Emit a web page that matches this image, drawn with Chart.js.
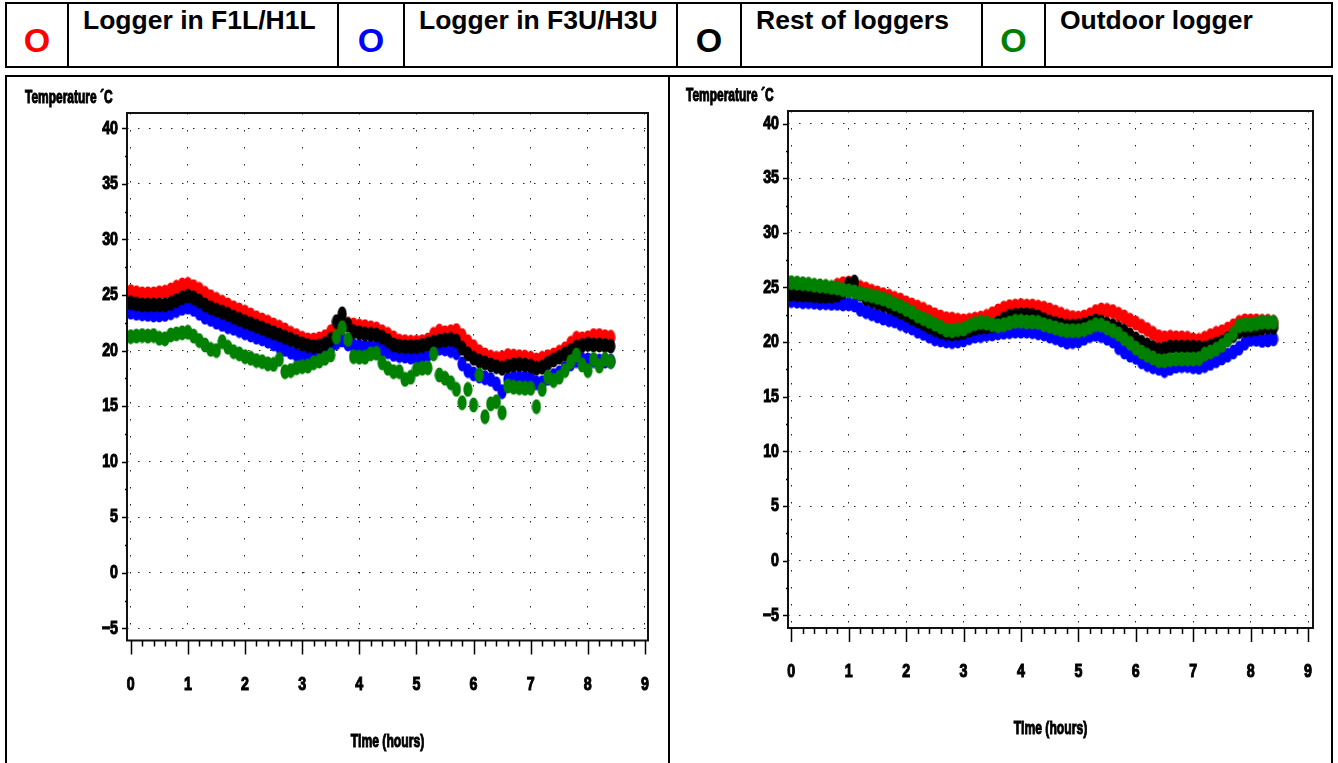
<!DOCTYPE html>
<html>
<head>
<meta charset="utf-8">
<script src="https://cdn.jsdelivr.net/npm/chart.js@4.4.1/dist/chart.umd.min.js"></script>
<style>
  html, body { margin: 0; padding: 0; background: #fff; }
  #page { position: relative; width: 1338px; height: 763px; overflow: hidden;
          font-family: "Liberation Sans", Arial, sans-serif; }
  .rule { position: absolute; background: #000; }
  .key { position: absolute; font-weight: bold; font-size: 34px; line-height: 1; text-align: center; }
  .keytext { position: absolute; font-weight: bold; font-size: 26.5px; line-height: 1; white-space: nowrap; color: #000; }
  canvas { position: absolute; }
</style>
</head>
<body>
<div id="page"></div>
<script>
// ---- series names and colours ----
const SERIES_LABELS = ['Logger in F1L/H1L', 'Logger in F3U/H3U', 'Rest of loggers', 'Outdoor logger'];
const SERIES_COLORS = ['#ff0000', '#0000ff', '#000000', '#008000'];
const KEY_SYMBOL = 'O';

// ---- axes ----
const X_TICKS = [0, 1, 2, 3, 4, 5, 6, 7, 8, 9];
const Y_TICKS = [-5, 0, 5, 10, 15, 20, 25, 30, 35, 40];
const X_TITLE = 'Time (hours)';
const Y_TITLE = 'Temperature ´C';

// ---- logging times (hours) ----
const TIME = [
  0.0, 0.1, 0.2, 0.3, 0.4, 0.5, 0.6, 0.7, 0.8, 0.9,
  1.0, 1.1, 1.2, 1.3, 1.4, 1.5, 1.6, 1.7, 1.8, 1.9,
  2.0, 2.1, 2.2, 2.3, 2.4, 2.5, 2.6, 2.7, 2.8, 2.9,
  3.0, 3.1, 3.2, 3.3, 3.4, 3.5, 3.6, 3.7, 3.8, 3.9,
  4.0, 4.1, 4.2, 4.3, 4.4, 4.5, 4.6, 4.7, 4.8, 4.9,
  5.0, 5.1, 5.2, 5.3, 5.4, 5.5, 5.6, 5.7, 5.8, 5.9,
  6.0, 6.1, 6.2, 6.3, 6.4, 6.5, 6.6, 6.7, 6.8, 6.9,
  7.0, 7.1, 7.2, 7.3, 7.4, 7.5, 7.6, 7.7, 7.8, 7.9,
  8.0, 8.1, 8.2, 8.3, 8.4
];

// ---- left panel temperatures (°C) ----
const LEFT_F1L = [
  25.3, 25.2, 25.1, 25.1, 25.1, 25.2, 25.25, 25.45, 25.7, 25.9,
  25.95, 25.75, 25.5, 25.15, 24.85, 24.6, 24.35, 24.1, 23.85, 23.65,
  23.45, 23.2, 22.95, 22.75, 22.55, 22.3, 22.1, 21.85, 21.55, 21.35,
  21.1, 20.95, 20.95, 21.05, 21.25, 21.7, 22.15, 22.45, 22.4, 22.3,
  22.2, 22.15, 22.05, 21.95, 21.7, 21.45, 21.15, 20.85, 20.8, 20.75,
  20.75, 20.8, 20.95, 21.45, 21.75, 21.6, 21.7, 21.8, 21.35, 20.8,
  20.35, 19.9, 19.6, 19.4, 19.3, 19.35, 19.55, 19.5, 19.45, 19.4,
  19.3, 19.15, 19.3, 19.45, 19.6, 19.85, 20.15, 20.65, 21.1, 21.05,
  21.15, 21.35, 21.35, 21.25, 21.2
];
const LEFT_F3U = [
  23.45, 23.35, 23.3, 23.25, 23.2, 23.2, 23.25, 23.4, 23.6, 23.8,
  23.9, 23.7, 23.35, 23.0, 22.8, 22.55, 22.35, 22.15, 22.0, 21.8,
  21.6, 21.4, 21.2, 21.05, 20.85, 20.6, 20.35, 20.1, 19.85, 19.65,
  19.5, 19.5, 19.6, 19.75, 19.95, 20.3, 20.7, 20.95, 20.6, 20.45,
  20.4, 20.35, 20.35, 20.3, 20.1, 19.9, 19.65, 19.55, 19.5, 19.4,
  19.35, 19.5, 19.65, 20.0, 20.2, 20.15, 20.0, 19.8, 18.8, 18.2,
  17.9, 17.7, 17.55, 17.4, 17.0, 16.3, 17.4, 17.55, 17.6, 17.55,
  17.5, 17.1, 17.1, 17.5, 17.75, 18.0, 18.4, 18.8, 19.1, 19.2,
  19.15, 19.1, 19.05, 19.05, 19.05
];
const LEFT_REST = [
  24.3, 24.2, 24.1, 24.1, 24.1, 24.1, 24.1, 24.25, 24.5, 24.75,
  24.9, 24.75, 24.45, 24.1, 23.85, 23.65, 23.45, 23.25, 23.0, 22.8,
  22.6, 22.4, 22.2, 22.0, 21.8, 21.6, 21.4, 21.2, 21.0, 20.8,
  20.6, 20.45, 20.35, 20.4, 20.6, 21.0, 22.6, 23.3, 22.3, 21.7,
  21.6, 21.5, 21.45, 21.4, 21.2, 20.9, 20.5, 20.4, 20.35, 20.35,
  20.35, 20.45, 20.6, 20.75, 20.85, 20.95, 21.0, 20.85, 20.2, 19.7,
  19.3, 19.05, 18.9, 18.7, 18.55, 18.4, 18.6, 18.7, 18.75, 18.7,
  18.6, 18.4, 18.5, 18.85, 19.15, 19.4, 19.7, 20.0, 20.3, 20.45,
  20.55, 20.5, 20.5, 20.45, 20.4
];
const LEFT_OUTDOOR = [
  21.25, 21.3, 21.35, 21.3, 21.35, 21.1, 21.05, 21.4, 21.5, 21.6,
  21.65, 21.3, 20.9, 20.5, 20.1, 20.0, 20.8, 20.3, 19.9, 19.7,
  19.45, 19.3, 19.1, 19.0, 18.8, 18.75, 19.2, 18.1, 18.2, 18.45,
  18.55, 18.6, 18.9, 19.05, 19.3, 19.6, 21.2, 22.05, 21.0, 19.45,
  19.4, 19.4, 19.7, 19.75, 18.9, 18.4, 18.1, 18.1, 17.4, 17.6,
  18.3, 18.4, 18.45, 19.7, 17.8, 17.5, 17.1, 16.5, 15.3, 16.5,
  15.1, 17.8, 14.05, 15.2, 15.4, 14.4, 16.8, 16.7, 16.65, 16.6,
  16.6, 14.95, 16.5, 17.6, 17.3, 17.6, 18.2, 19.0, 19.6, 18.7,
  18.2, 19.2, 18.6, 19.2, 19.0
];

// ---- right panel temperatures (°C) ----
const RIGHT_F1L = [
  24.85, 24.8, 24.75, 24.7, 24.7, 24.7, 24.75, 24.85, 25.2, 25.35,
  25.4, 25.3, 25.0, 24.85, 24.65, 24.5, 24.35, 24.2, 24.0, 23.85,
  23.6, 23.4, 23.2, 23.0, 22.75, 22.5, 22.3, 22.15, 22.1, 22.0,
  21.95, 22.0, 22.1, 22.2, 22.35, 22.6, 22.85, 23.1, 23.25, 23.3,
  23.35, 23.3, 23.3, 23.2, 23.1, 22.95, 22.75, 22.55, 22.35, 22.25,
  22.2, 22.3, 22.5, 22.8, 22.95, 22.9, 22.8, 22.55, 22.3, 22.0,
  21.75, 21.45, 21.15, 20.8, 20.5, 20.4, 20.45, 20.4, 20.4, 20.35,
  20.2, 20.15, 20.35, 20.6, 20.8, 20.95, 21.2, 21.5, 21.8, 21.95,
  21.95, 21.95, 21.9, 21.9, 21.8
];
const RIGHT_F3U = [
  23.8, 23.75, 23.7, 23.7, 23.65, 23.6, 23.6, 23.55, 23.55, 23.5,
  23.5, 23.4, 23.0, 22.8, 22.6, 22.4, 22.2, 22.05, 21.95, 21.7,
  21.5, 21.3, 21.0, 20.8, 20.55, 20.3, 20.2, 20.1, 20.05, 20.1,
  20.2, 20.4, 20.55, 20.6, 20.7, 20.75, 20.85, 20.9, 20.95, 21.0,
  21.0, 21.0, 20.95, 20.85, 20.75, 20.55, 20.4, 20.2, 20.0, 20.05,
  20.1, 20.35, 20.6, 20.7, 20.6, 20.35, 20.1, 19.5, 19.1, 18.8,
  18.6, 18.2, 17.95, 17.75, 17.6, 17.4, 17.6, 17.8, 17.85, 17.85,
  17.75, 17.7, 17.85, 18.05, 18.3, 18.55, 18.8, 19.1, 19.45, 19.9,
  20.25, 20.25, 20.15, 20.2, 20.3
];
const RIGHT_REST = [
  24.4, 24.35, 24.3, 24.3, 24.25, 24.2, 24.2, 24.2, 24.3, 24.6,
  25.3, 25.5, 24.4, 24.0, 23.8, 23.6, 23.4, 23.25, 23.0, 22.75,
  22.5, 22.2, 21.95, 21.7, 21.4, 21.15, 20.95, 20.8, 20.75, 20.8,
  20.9, 21.1, 21.25, 21.35, 21.4, 21.5, 21.75, 22.1, 22.35, 22.45,
  22.5, 22.5, 22.45, 22.3, 22.05, 21.85, 21.7, 21.55, 21.45, 21.45,
  21.5, 21.6, 21.75, 21.95, 21.85, 21.65, 21.5, 21.25, 21.0, 20.65,
  20.3, 20.0, 19.75, 19.5, 19.3, 19.4, 19.55, 19.55, 19.55, 19.55,
  19.55, 19.5, 19.45, 19.6, 19.8, 20.0, 20.3, 20.6, 20.95, 21.1,
  21.15, 21.2, 21.3, 21.35, 21.35
];
const RIGHT_OUTDOOR = [
  25.45, 25.4, 25.35, 25.3, 25.2, 25.15, 25.1, 25.0, 24.95, 24.8,
  24.7, 24.6, 24.45, 24.35, 24.25, 24.1, 23.95, 23.75, 23.5, 23.3,
  23.0, 22.75, 22.4, 22.15, 21.9, 21.65, 21.4, 21.1, 21.05, 21.15,
  21.2, 21.5, 21.7, 21.8, 21.75, 21.6, 21.5, 21.6, 21.75, 21.9,
  21.9, 21.85, 21.85, 21.8, 21.6, 21.45, 21.3, 21.15, 21.05, 21.05,
  21.05, 21.15, 21.35, 21.6, 21.55, 21.3, 21.05, 20.75, 20.3, 19.9,
  19.45, 19.1, 18.8, 18.55, 18.3, 18.3, 18.4, 18.45, 18.45, 18.45,
  18.45, 18.5, 18.9, 19.1, 19.35, 19.7, 20.2, 20.8, 21.5, 21.6,
  21.6, 21.7, 21.8, 21.8, 21.8
];

// ---- page layout ----
const page = document.getElementById('page');

function rule(left, top, width, height) {
  const d = document.createElement('div');
  d.className = 'rule';
  Object.assign(d.style, { left: left + 'px', top: top + 'px', width: width + 'px', height: height + 'px' });
  page.appendChild(d);
}

// key strip: symbol cell + text cell for each series
const KEY_COLS = [5, 67, 337, 403, 676, 740, 981, 1044, 1331];
const KEY_TOP = 2, KEY_BOTTOM = 68;
rule(5, KEY_TOP, 1328, 2);
rule(5, KEY_BOTTOM - 2, 1328, 2);
KEY_COLS.forEach(x => rule(x, KEY_TOP, 2, KEY_BOTTOM - KEY_TOP));
SERIES_LABELS.forEach((label, i) => {
  const symLeft = KEY_COLS[2 * i], textLeft = KEY_COLS[2 * i + 1];
  const sym = document.createElement('div');
  sym.className = 'key';
  sym.textContent = KEY_SYMBOL;
  Object.assign(sym.style, { left: symLeft + 2 + 'px', width: (textLeft - symLeft - 2) + 'px', top: '23px', color: SERIES_COLORS[i] });
  page.appendChild(sym);
  const txt = document.createElement('div');
  txt.className = 'keytext';
  txt.textContent = label;
  Object.assign(txt.style, { left: textLeft + 16 + 'px', top: '7px' });
  page.appendChild(txt);
});

// frame around the two plot panels
const PANEL_TOP = 75;
rule(5, PANEL_TOP, 1328, 2);
[5, 668, 1331].forEach(x => rule(x, PANEL_TOP, 2, 763 - PANEL_TOP));

// ---- marker images: filled ellipses like the plotted symbols ----
function dotImage(color) {
  const c = document.createElement('canvas');
  c.width = 10; c.height = 16;
  const g = c.getContext('2d');
  g.fillStyle = color;
  g.beginPath();
  g.ellipse(5, 8, 4.6, 7.6, 0, 0, Math.PI * 2);
  g.fill();
  return c;
}

// ---- condensed heavy text used for the axis annotation ----
function condensedText(ctx, str, x, y, size, sx, align) {
  ctx.save();
  ctx.translate(x, y);
  ctx.scale(sx, 1);
  ctx.font = 'bold ' + size + 'px "Liberation Sans", Arial, sans-serif';
  ctx.textAlign = align;
  ctx.textBaseline = 'middle';
  ctx.fillStyle = '#000';
  ctx.strokeStyle = '#000';
  ctx.lineWidth = 1.1;
  ctx.fillText(str, 0, 0);
  ctx.strokeText(str, 0, 0);
  ctx.restore();
}

function tickText(v) {
  return v < 0 ? '\u2212' + Math.abs(v) : String(v);
}

// frame, tick marks, tick labels and titles, placed through the chart scales
const axisDecor = {
  id: 'axisDecor',
  afterDraw(chart) {
    const { ctx, chartArea: a } = chart;
    const xs = chart.scales.x, ys = chart.scales.y;
    ctx.save();
    ctx.strokeStyle = '#111';
    ctx.lineWidth = 2;
    ctx.strokeRect(a.left, a.top, a.right - a.left, a.bottom - a.top);

    ctx.lineWidth = 1.5;
    ctx.strokeStyle = '#000';
    ctx.beginPath();
    // x: major ticks every hour, minor every 0.2 h
    for (let k = 0; k <= 45; k++) {
      const px = Math.round(xs.getPixelForValue(k * 0.2)) + 0.5;
      const len = (k % 5 === 0) ? 14 : 6;
      ctx.moveTo(px, a.bottom);
      ctx.lineTo(px, a.bottom + len);
    }
    // y: major ticks every 5 °C, minor at the half steps
    for (let k = 0; k <= 18; k++) {
      const py = Math.round(ys.getPixelForValue(-5 + k * 2.5)) + 0.5;
      const len = (k % 2 === 0) ? 5 : 2;
      ctx.moveTo(a.left, py);
      ctx.lineTo(a.left - len, py);
    }
    ctx.stroke();
    ctx.restore();

    X_TICKS.forEach(v => condensedText(ctx, tickText(v), xs.getPixelForValue(v), a.bottom + 44, 19, 0.75, 'center'));
    Y_TICKS.forEach(v => condensedText(ctx, tickText(v), a.left - 9, ys.getPixelForValue(v), 19, 0.75, 'right'));
    condensedText(ctx, X_TITLE, (a.left + a.right) / 2, a.bottom + 101, 19, 0.64, 'center');
    condensedText(ctx, Y_TITLE, a.left - 102, a.top - 15, 19, 0.63, 'left');
  }
};

function makePanel(cfg) {
  const cv = document.createElement('canvas');
  cv.width = cfg.width; cv.height = cfg.height;
  Object.assign(cv.style, { left: cfg.left + 'px', top: cfg.top + 'px', width: cfg.width + 'px', height: cfg.height + 'px' });
  page.appendChild(cv);

  const ordering = [3, 2, 1, 0]; // outdoor on top, F1L/H1L underneath
  const datasets = cfg.series.map((vals, i) => ({
    label: SERIES_LABELS[i],
    data: TIME.map((t, j) => ({ x: t, y: vals[j] })),
    pointStyle: dotImage(SERIES_COLORS[i]),
    pointRadius: 5,
    backgroundColor: SERIES_COLORS[i],
    borderColor: SERIES_COLORS[i],
    order: ordering[i]
  }));

  const grid = { display: true, drawTicks: false, color: '#222', lineWidth: 1 };

  return new Chart(cv.getContext('2d'), {
    type: 'scatter',
    data: { datasets },
    options: {
      responsive: false,
      animation: false,
      events: [],
      layout: { padding: {
        left: cfg.area.left - cfg.left, right: cfg.left + cfg.width - cfg.area.right,
        top: cfg.area.top - cfg.top, bottom: cfg.top + cfg.height - cfg.area.bottom } },
      plugins: { legend: { display: false }, tooltip: { enabled: false } },
      scales: {
        x: {
          type: 'linear', min: cfg.xRange[0], max: cfg.xRange[1],
          afterBuildTicks: s => { s.ticks = X_TICKS.map(v => ({ value: v })); },
          ticks: { display: false },
          border: { display: false, dash: [1.5, 15.5] },
          grid
        },
        y: {
          type: 'linear', min: cfg.yRange[0], max: cfg.yRange[1],
          afterBuildTicks: s => { s.ticks = Y_TICKS.map(v => ({ value: v })); },
          ticks: { display: false },
          border: { display: false, dash: [1.5, 9.5] },
          grid
        }
      }
    },
    plugins: [axisDecor]
  });
}

makePanel({
  left: 8, top: 78, width: 658, height: 685,
  area: { left: 127, right: 648, top: 113, bottom: 640.5 },
  xRange: [-0.065, 9.053], yRange: [-6.10, 41.38],
  series: [LEFT_F1L, LEFT_F3U, LEFT_REST, LEFT_OUTDOOR]
});
makePanel({
  left: 671, top: 78, width: 660, height: 685,
  area: { left: 788, right: 1313, top: 111, bottom: 628 },
  xRange: [-0.057, 9.087], yRange: [-6.16, 41.15],
  series: [RIGHT_F1L, RIGHT_F3U, RIGHT_REST, RIGHT_OUTDOOR]
});
</script>
</body>
</html>
